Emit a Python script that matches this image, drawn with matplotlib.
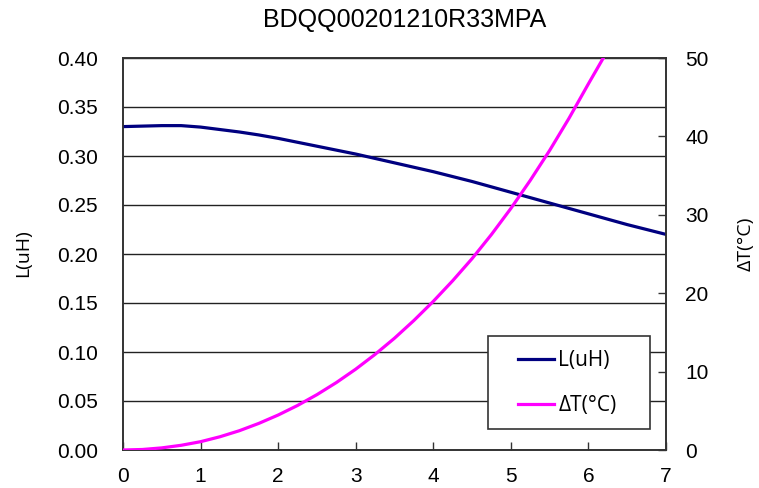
import matplotlib
matplotlib.use("Agg")
import matplotlib.pyplot as plt
from matplotlib.patches import Rectangle

# Data
current_L = [0, 0.25, 0.5, 0.75, 1, 1.25, 1.5, 1.75, 2, 2.25, 2.5, 2.75, 3, 3.25,
             3.5, 3.75, 4, 4.25, 4.5, 4.75, 5, 5.25, 5.5, 5.75, 6, 6.25, 6.5, 6.75, 7]
inductance = [0.330, 0.3305, 0.331, 0.331, 0.3295, 0.327, 0.3245, 0.3215, 0.318,
              0.314, 0.310, 0.306, 0.302, 0.2975, 0.293, 0.2885, 0.284, 0.279,
              0.274, 0.2685, 0.263, 0.2575, 0.252, 0.2465, 0.241, 0.2355, 0.230,
              0.225, 0.220]
current_T = [0, 0.25, 0.5, 0.75, 1, 1.25, 1.5, 1.75, 2, 2.25, 2.5, 2.75, 3, 3.25,
             3.5, 3.75, 4, 4.25, 4.5, 4.75, 5, 5.25, 5.5, 5.75, 6, 6.25]
delta_T = [0, 0.065, 0.27, 0.6, 1.06, 1.69, 2.46, 3.39, 4.46, 5.68, 7.06, 8.6, 10.31,
           12.2, 14.26, 16.52, 18.96, 21.59, 24.41, 27.49, 30.81, 34.39, 38.21,
           42.32, 46.71, 51.0]
x_ticks = [0, 1, 2, 3, 4, 5, 6, 7]
left_ticks = [0.00, 0.05, 0.10, 0.15, 0.20, 0.25, 0.30, 0.35, 0.40]
right_ticks = [0, 10, 20, 30, 40, 50]
title = "BDQQ00201210R33MPA"
series_names = ["L(uH)", "ΔT(°C)"]

plt.rcParams['font.family'] = ['Liberation Sans', 'DejaVu Sans']

W, H = 759, 488
fig = plt.figure(figsize=(W / 100, H / 100), dpi=100)
L, R, T, B = 123, 666, 58, 450
ax = fig.add_axes([L / W, 1 - B / H, (R - L) / W, (B - T) / H])
ax2 = ax.twinx()

edge = '#333333'
ax.plot(current_L, inductance, color='#000080', lw=2.3, zorder=3)
ax2.plot(current_T, delta_T, color='#FF00FF', lw=2.3, zorder=3, clip_on=True)

ax.set_xlim(0, 7)
ax.set_ylim(0, 0.40)
ax2.set_ylim(0, 50)
ax.set_xticks(x_ticks)
ax.set_xticklabels([str(v) for v in x_ticks])
ax.set_yticks(left_ticks)
ax.set_yticklabels([f"{v:.2f}" for v in left_ticks])
ax2.set_yticks(right_ticks)
ax2.set_yticklabels([str(v) for v in right_ticks])

ax.grid(axis='y', color='#222222', lw=1.0)
ax.set_axisbelow(True)

for a in (ax, ax2):
    for s in a.spines.values():
        s.set_color(edge)
        s.set_linewidth(1.2)

ax.tick_params(axis='x', direction='in', length=6, width=1, color=edge,
               labelsize=15, pad=12)
ax.tick_params(axis='y', direction='in', length=0, labelsize=15, pad=18)
ax2.tick_params(axis='y', direction='in', length=6, width=1, color=edge,
                labelsize=15, pad=14)

ax.set_ylabel(series_names[0], fontsize=14, family=['Open Sans', 'DejaVu Sans'],
              va='center', ha='center')
ax.yaxis.set_label_coords(-0.184, 0.503)
ax2.set_ylabel(series_names[1], fontsize=14, family=['Open Sans', 'DejaVu Sans'],
               va='center', ha='center')
ax2.yaxis.set_label_coords(1.147, 0.526)

fig.text(405 / W, 1 - 20 / H, title, ha='center', va='center', fontsize=18)

# Legend box
bx0, by0, bx1, by1 = 488, 336, 650, 429
rect = Rectangle((bx0 / W, 1 - by1 / H), (bx1 - bx0) / W, (by1 - by0) / H,
                 transform=fig.transFigure, facecolor='white', edgecolor=edge,
                 lw=1.2, zorder=4)
rect.set_clip_on(False)
ax2.add_patch(rect)

lines = ax.get_lines() + ax2.get_lines()
leg = ax2.legend(lines, series_names, loc='upper left',
                 bbox_to_anchor=(514 / W, 1 - 346 / H), bbox_transform=fig.transFigure,
                 frameon=False, handlelength=1.73, handletextpad=0.2,
                 labelspacing=1.14, borderpad=0.2, borderaxespad=0,
                 prop={'family': ['Open Sans', 'DejaVu Sans'], 'size': 15})
leg.set_zorder(5)

fig.savefig("out.png", dpi=100)
